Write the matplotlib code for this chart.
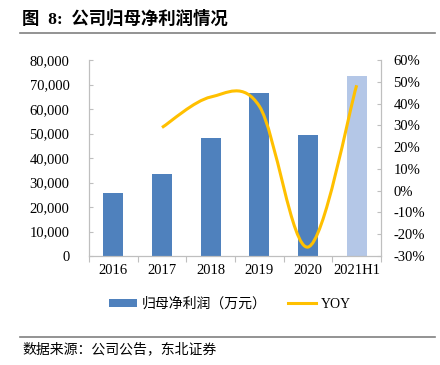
import numpy as np
import matplotlib
matplotlib.use('Agg')
import matplotlib.pyplot as plt
from matplotlib.path import Path
from matplotlib.patches import PathPatch, Patch
from matplotlib.lines import Line2D

plt.rcParams['font.family'] = ['Liberation Serif', 'Noto Sans CJK SC', 'DejaVu Sans']

categories = ['2016', '2017', '2018', '2019', '2020', '2021H1']
profit = [25900, 33500, 48000, 66700, 49400, 73300]
yoy = [np.nan, 29.0, 43.0, 38.8, -25.9, 48.4]
bar_colors = ['#4F81BD', '#4F81BD', '#4F81BD', '#4F81BD', '#4F81BD', '#B4C7E7']

fig = plt.figure(figsize=(4.4, 3.65), dpi=100)
ax = fig.add_axes([89/440, 1-256/365, (381-89)/440, (256-60)/365])
x = np.arange(len(categories))
ax.bar(x, profit, width=0.41, color=bar_colors, zorder=2)
ax.set_xlim(-0.5, len(categories)-0.5)
ax.set_ylim(0, 80000)
ax.set_yticks(np.arange(0, 80001, 10000))
ax.set_yticklabels(['{:,}'.format(v) for v in range(0, 80001, 10000)], fontsize=10.5)
ax.set_xticks(np.arange(-0.5, len(categories), 1.0))
ax.set_xticklabels([])
ax.set_xticks(x, minor=True)
ax.set_xticklabels(categories, minor=True, fontsize=10.5)
ax.tick_params(axis='x', which='major', direction='out', length=4, color='#BFBFBF')
ax.tick_params(axis='x', which='minor', length=0, pad=6)
ax.tick_params(axis='y', direction='in', length=3, color='#BFBFBF', pad=14)
for s in ['left', 'right', 'bottom']:
    ax.spines[s].set_color('#BFBFBF')
ax.spines['top'].set_visible(False)

ax2 = ax.twinx()
ax2.set_ylim(-30, 60)
ax2.set_yticks(np.arange(-30, 61, 10))
ax2.set_yticklabels(['{}%'.format(v) for v in range(-30, 61, 10)], fontsize=10.5)
ax2.tick_params(axis='y', direction='in', length=3, color='#BFBFBF', pad=9)
for s in ['left', 'right', 'bottom']:
    ax2.spines[s].set_color('#BFBFBF')
ax2.spines['top'].set_visible(False)

# smoothed line like Excel (Catmull-Rom style bezier)
pts = [(xi, yi) for xi, yi in zip(x, yoy) if not np.isnan(yi)]
pts = np.array(pts, dtype=float)
verts = [pts[0]]
codes = [Path.MOVETO]
n = len(pts)
for i in range(n-1):
    p0 = pts[i-1] if i > 0 else pts[i]
    p1 = pts[i]
    p2 = pts[i+1]
    p3 = pts[i+2] if i+2 < n else pts[i+1]
    c1 = p1 + (p2 - p0) / 6.0
    c2 = p2 - (p3 - p1) / 6.0
    verts += [c1, c2, p2]
    codes += [Path.CURVE4]*3
ax2.add_patch(PathPatch(Path(verts, codes), facecolor='none', edgecolor='#FFC000', lw=2.2, zorder=3))

handles = [Patch(facecolor='#4F81BD', edgecolor='none'),
           Line2D([0], [0], color='#FFC000', lw=2.2)]
fig.legend(handles, ['归母净利润（万元）', 'YOY'], loc='center', bbox_to_anchor=(230/440, 1-304/365),
           ncol=2, frameon=False, fontsize=10, handlelength=2.0, handleheight=0.45,
           columnspacing=1.6, handletextpad=0.3)

fig.text(22/440, 1-19/365, '图  8:  公司归母净利润情况', fontsize=12.5, fontweight='bold',
         ha='left', va='center')
fig.add_artist(Line2D([20/440, 435/440], [1-33/365, 1-33/365], color='#808080', lw=1.2))
fig.add_artist(Line2D([20/440, 435/440], [1-337/365, 1-337/365], color='#808080', lw=1.2))
fig.text(22/440, 1-349/365, '数据来源：公司公告，东北证券', fontsize=10, ha='left', va='center')

plt.savefig('out.png', dpi=100)
